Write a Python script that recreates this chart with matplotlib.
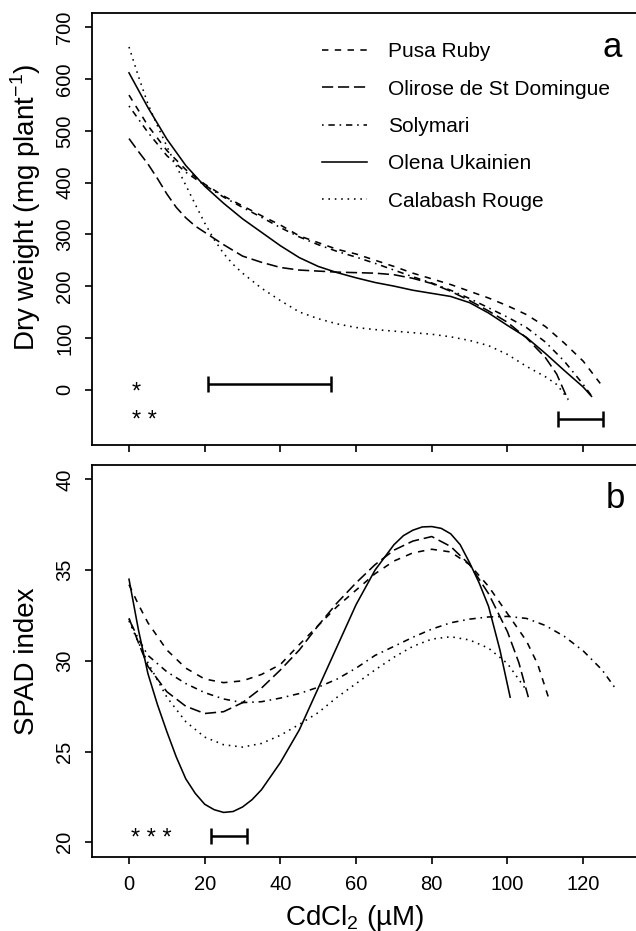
import numpy as np
import matplotlib
matplotlib.use("Agg")
import matplotlib.pyplot as plt

plt.rcParams.update({
    "font.family": ["Liberation Sans", "DejaVu Sans"],
    "font.size": 14,
    "axes.linewidth": 1.3,
})

cultivars = ["Pusa Ruby", "Olirose de St Domingue", "Solymari",
             "Olena Ukainien", "Calabash Rouge"]
styles = [(0, (4, 4)), (0, (7, 3)), (0, (1, 3, 4, 3)), "-", (0, (1, 3))]

# ---- dry weight (mg plant-1) ----
grid5 = [0, 5, 10, 15, 20, 25, 30, 35, 40, 45, 50, 55, 60, 65, 70, 75,
         80, 85, 90, 95, 100, 105, 110]
pusa_dw_x = grid5 + [115, 120, 124.5]
pusa_dw = [569, 510, 462, 425, 397, 374, 355, 336, 318, 297, 284, 271, 262,
           250, 238, 225, 214, 203, 190, 177, 162, 145, 122, 90, 55, 12]
olirose_dw_x = [0, 2.5, 5, 7.5, 10, 12.5, 15, 17.5, 20, 22.5, 25, 30, 35, 40,
                45, 50, 55, 60, 65, 70, 75, 80, 85, 90, 95, 100, 105, 110,
                113, 116]
olirose_dw = [485, 460, 436, 408, 378, 352, 332, 316, 304, 292, 280, 258, 246,
              236, 231, 229, 227, 226, 225, 222, 215, 205, 190, 172, 152, 130,
              100, 62, 30, -20]
solymari_dw_x = grid5 + [115, 120, 122.7]
solymari_dw = [548, 497, 452, 420, 395, 372, 352, 333, 313, 295, 280, 267, 256,
               244, 231, 218, 206, 192, 176, 158, 140, 120, 92, 55, 10, -17]
olena_dw_x = grid5 + [115, 120, 122.2]
olena_dw = [612, 545, 484, 433, 393, 360, 330, 304, 278, 255, 238, 226, 216,
            207, 200, 192, 186, 180, 168, 148, 124, 101, 70, 37, 5, -13]
calabash_dw_x = [0, 2.5, 5, 7.5, 10, 12.5, 15, 17.5, 20, 22.5, 25, 27.5, 30,
                 35, 40, 45, 50, 55, 60, 65, 70, 75, 80, 85, 90, 95, 100, 105,
                 110, 113, 116]
calabash_dw = [662, 605, 552, 510, 470, 432, 395, 358, 322, 290, 263, 242, 225,
               196, 172, 150, 137, 127, 120, 116, 113, 110, 107, 102, 95, 85,
               68, 45, 25, 10, -18]

# LSD bars (start, end, level)
dw_lsd_start = [21.0, 113.4]
dw_lsd_end = [53.5, 125.3]
dw_lsd_y = [10, -57]

# ---- SPAD index ----
grid_s = [0, 2.5, 5, 10, 15, 20, 25, 30, 35, 40, 45, 50, 55, 60, 65, 70,
          75, 80, 85, 90, 95, 100]
pusa_sp_x = grid_s + [105, 108, 110.8]
pusa_sp = [34.2, 33.1, 32.1, 30.6, 29.6, 29.0, 28.8, 28.9, 29.25, 29.8, 30.9,
           31.95, 33.0, 33.9, 34.8, 35.5, 35.95, 36.15, 36.0, 35.3, 34.1, 32.6,
           31.1, 29.8, 28.0]
olirose_sp_x = grid_s + [103, 105.5]
olirose_sp = [32.35, 31.0, 29.7, 28.3, 27.5, 27.1, 27.2, 27.7, 28.5, 29.5, 30.6,
              31.95, 33.2, 34.3, 35.3, 36.1, 36.6, 36.85, 36.3, 35.3, 33.7, 31.6,
              29.9, 28.0]
solymari_sp_x = grid_s + [105, 110, 115, 120, 125, 128.8]
solymari_sp = [32.3, 31.2, 30.3, 29.4, 28.75, 28.25, 27.9, 27.7, 27.75, 27.95,
               28.2, 28.55, 29.0, 29.6, 30.3, 30.8, 31.3, 31.75, 32.1, 32.3,
               32.42, 32.45, 32.34, 31.95, 31.35, 30.55, 29.5, 28.4]
olena_sp_x = [0, 2.5, 5, 7.5, 10, 12.5, 15, 17.5, 20, 22.5, 25, 27.5, 30,
              32.5, 35, 40, 45, 50, 55, 60, 65, 70, 72.5, 75, 77.5, 80, 82.5,
              85, 87.5, 90, 92.5, 95, 98, 100.7]
olena_sp = [34.5, 31.7, 29.3, 27.6, 26.1, 24.7, 23.5, 22.7, 22.1, 21.8, 21.65,
            21.7, 21.95, 22.35, 22.9, 24.4, 26.2, 28.5, 30.8, 33.1, 35.0, 36.4,
            36.9, 37.2, 37.38, 37.4, 37.3, 37.0, 36.4, 35.4, 34.3, 33.0, 30.6,
            28.0]
calabash_sp_x = grid_s + [104.6]
calabash_sp = [32.2, 31.0, 29.9, 28.0, 26.65, 25.8, 25.38, 25.25, 25.45, 25.9,
               26.5, 27.15, 28.0, 28.75, 29.5, 30.2, 30.8, 31.2, 31.33, 31.15,
               30.7, 29.85, 28.5]
sp_lsd_start = [21.7]
sp_lsd_end = [31.3]
sp_lsd_y = [20.35]

dw_x = [pusa_dw_x, olirose_dw_x, solymari_dw_x, olena_dw_x, calabash_dw_x]
dw_y = [pusa_dw, olirose_dw, solymari_dw, olena_dw, calabash_dw]
sp_x = [pusa_sp_x, olirose_sp_x, solymari_sp_x, olena_sp_x, calabash_sp_x]
sp_y = [pusa_sp, olirose_sp, solymari_sp, olena_sp, calabash_sp]

fig = plt.figure(figsize=(6.36, 9.31), dpi=100)
ax1 = fig.add_axes([0.1451, 0.5220, 0.8549, 0.4637])
ax2 = fig.add_axes([0.1451, 0.0798, 0.8549, 0.4207])

for ax in (ax1, ax2):
    ax.spines["right"].set_visible(False)
    ax.set_xlim(-9.7, 133.95)
    ax.set_xticks(np.arange(0, 121, 20))
    ax.tick_params(direction="out", length=5, width=1.2, pad=8, labelsize=14.5)

for xs, ys, name, ls in zip(dw_x, dw_y, cultivars, styles):
    ax1.plot(xs, ys, color="black", lw=1.15, linestyle=ls, label=name)
for xs, ys, ls in zip(sp_x, sp_y, styles):
    ax2.plot(xs, ys, color="black", lw=1.15, linestyle=ls)

ax1.set_ylim(-107, 727)
ax1.set_yticks(np.arange(0, 701, 100))
ax1.tick_params(axis="x", labelbottom=False)
ax2.set_ylim(19.21, 40.79)
ax2.set_yticks(np.arange(20, 41, 5))
for ax in (ax1, ax2):
    plt.setp(ax.get_yticklabels(), rotation=90, va="center")

# LSD bars
for a, b, y in zip(dw_lsd_start, dw_lsd_end, dw_lsd_y):
    ax1.errorbar((a + b) / 2, y, xerr=(b - a) / 2, color="black",
                 elinewidth=1.8, capsize=6, capthick=1.8, fmt="none")
for a, b, y in zip(sp_lsd_start, sp_lsd_end, sp_lsd_y):
    ax2.errorbar((a + b) / 2, y, xerr=(b - a) / 2, color="black",
                 elinewidth=1.8, capsize=6, capthick=1.8, fmt="none")

ax1.text(1.8, 0, "*", ha="center", va="center_baseline", fontsize=17)
ax1.text(4.0, -55, "* *", ha="center", va="center_baseline", fontsize=17)
ax2.text(6.0, 20.35, "* * *", ha="center", va="center_baseline", fontsize=17)

ax1.legend(loc="upper left", bbox_to_anchor=(0.422, 0.933), frameon=False,
           fontsize=15, handlelength=2.16, handletextpad=1.0,
           labelspacing=0.88, borderpad=0, borderaxespad=0)

fig.text(0.962, 0.939, "a", fontsize=25, ha="center", va="baseline")
fig.text(0.967, 0.4543, "b", fontsize=25, ha="center", va="baseline")

fig.text(0.041, 0.7777, "Dry weight (mg plant$^{\\mathregular{-1}}$)",
         rotation=90, ha="center", va="center", fontsize=20)
fig.text(0.042, 0.2895, "SPAD index", rotation=90, ha="center",
         va="center", fontsize=20)
fig.text(0.558, 0.0145, "CdCl$_{\\mathregular{2}}$ (µM)", ha="center",
         va="center", fontsize=20)

fig.savefig("out.png", dpi=100)
